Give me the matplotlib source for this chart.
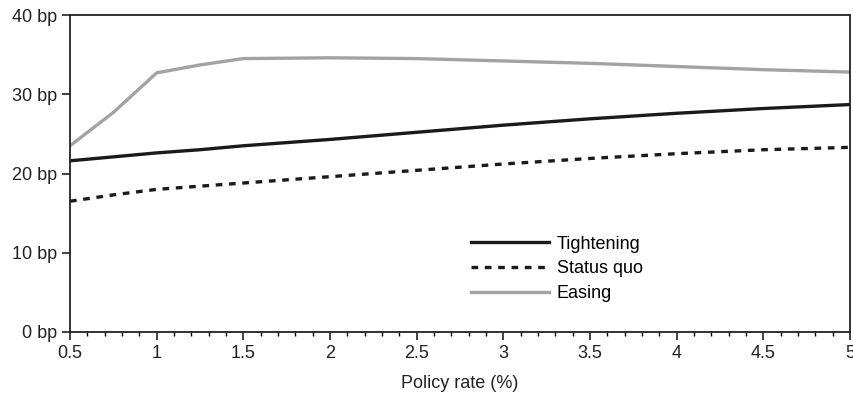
import matplotlib.pyplot as plt
from matplotlib.ticker import MultipleLocator, FuncFormatter

plt.rcParams['font.family'] = ['Liberation Sans', 'DejaVu Sans']

rate = [0.5, 0.75, 1, 1.25, 1.5, 2, 2.5, 3, 3.5, 4, 4.5, 5]
tightening = [21.6, 22.1, 22.6, 23.0, 23.5, 24.3, 25.2, 26.1, 26.9, 27.6, 28.2, 28.7]
status_quo = [16.5, 17.3, 18.0, 18.4, 18.8, 19.6, 20.4, 21.2, 21.9, 22.5, 23.0, 23.3]
easing = [23.5, 27.7, 32.7, 33.7, 34.5, 34.6, 34.5, 34.2, 33.9, 33.5, 33.1, 32.8]


def main():
    fig = plt.figure(figsize=(8.54, 3.95), dpi=100)
    ax = fig.add_axes([70 / 854, 1 - 332 / 395, 780 / 854, 317 / 395])

    ax.plot(rate, tightening, color='#1a1a1a', linewidth=2.4, label='Tightening')
    ax.plot(rate, status_quo, color='#1a1a1a', linewidth=2.4,
            linestyle=(0, (2.0, 2.0)), label='Status quo')
    ax.plot(rate, easing, color='#a3a3a3', linewidth=2.4, label='Easing')

    ax.set_xlim(0.5, 5)
    ax.set_ylim(0, 40)
    ax.xaxis.set_major_locator(MultipleLocator(0.5))
    ax.xaxis.set_minor_locator(MultipleLocator(0.1))
    ax.yaxis.set_major_locator(MultipleLocator(10))
    ax.xaxis.set_major_formatter(FuncFormatter(lambda v, p: '%g' % v))
    ax.yaxis.set_major_formatter(FuncFormatter(lambda v, p: '%d bp' % v))
    ax.tick_params(axis='both', which='major', length=6, width=1.2,
                   labelsize=13, colors='#222222', pad=3)
    ax.tick_params(axis='x', which='minor', length=3, width=1)
    for s in ax.spines.values():
        s.set_linewidth(1.3)
        s.set_color('#222222')

    ax.set_xlabel('Policy rate (%)', fontsize=13, color='#222222', labelpad=10)

    ax.legend(loc='lower left', bbox_to_anchor=(0.505, 0.072), frameon=False,
              fontsize=13, handlelength=4.3, handletextpad=0.45,
              labelspacing=0.42, borderaxespad=0)

    fig.savefig('out.png', dpi=100)


if __name__ == '__main__':
    main()
